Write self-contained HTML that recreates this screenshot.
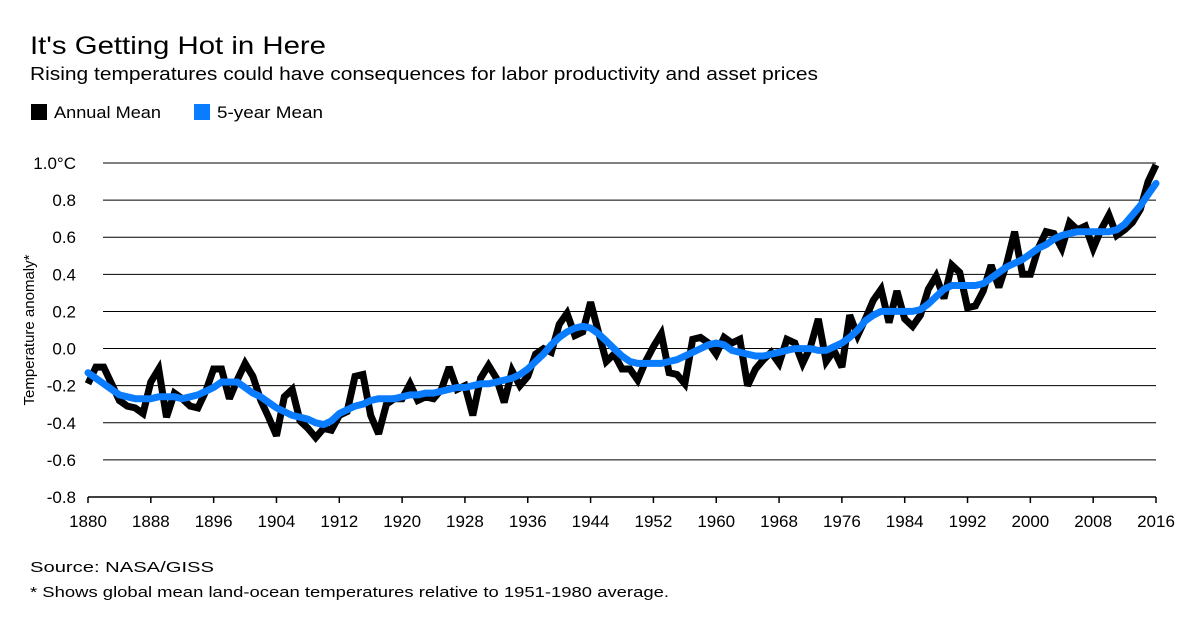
<!DOCTYPE html>
<html><head><meta charset="utf-8"><style>
body{margin:0;background:#fff;font-family:"Liberation Sans",sans-serif;}
svg text{font-family:"Liberation Sans",sans-serif;fill:#000;}
</style></head><body>
<svg width="1200" height="635" viewBox="0 0 1200 635">
<text x="30" y="54" font-size="25" textLength="296" lengthAdjust="spacingAndGlyphs">It's Getting Hot in Here</text>
<text x="30" y="80" font-size="18" textLength="788" lengthAdjust="spacingAndGlyphs">Rising temperatures could have consequences for labor productivity and asset prices</text>
<g>
<rect x="31" y="104" width="16" height="16" fill="#000"/>
<text x="54" y="118" font-size="17" textLength="107" lengthAdjust="spacingAndGlyphs">Annual Mean</text>
<rect x="194" y="104" width="16" height="16" fill="#0a7cff"/>
<text x="217" y="118" font-size="17" textLength="106" lengthAdjust="spacingAndGlyphs">5-year Mean</text>
</g>
<g id="grid"></g><g id="axes"></g><g id="series"></g>
<text transform="translate(34,330) rotate(-90)" text-anchor="middle" font-size="15">Temperature anomaly*</text>
<text x="30" y="572" font-size="15" textLength="184" lengthAdjust="spacingAndGlyphs">Source: NASA/GISS</text>
<text x="30" y="597" font-size="15" textLength="639" lengthAdjust="spacingAndGlyphs">* Shows global mean land-ocean temperatures relative to 1951-1980 average.</text>
</svg>
<script>
const startYear = 1880;
const annualMean = [-0.19,-0.10,-0.10,-0.19,-0.28,-0.31,-0.32,-0.35,-0.18,-0.11,
-0.37,-0.24,-0.27,-0.31,-0.32,-0.23,-0.11,-0.11,-0.27,-0.17,
-0.08,-0.15,-0.28,-0.37,-0.47,-0.26,-0.22,-0.39,-0.43,-0.48,
-0.43,-0.44,-0.36,-0.34,-0.15,-0.14,-0.36,-0.46,-0.30,-0.27,
-0.27,-0.19,-0.28,-0.26,-0.27,-0.22,-0.10,-0.22,-0.20,-0.36,
-0.16,-0.09,-0.16,-0.29,-0.12,-0.20,-0.15,-0.03,0.00,-0.02,
0.13,0.19,0.07,0.09,0.25,0.09,-0.07,-0.03,-0.11,-0.11,
-0.17,-0.07,0.01,0.08,-0.13,-0.14,-0.19,0.05,0.06,0.03,
-0.03,0.06,0.03,0.05,-0.20,-0.11,-0.06,-0.02,-0.08,0.05,
0.03,-0.08,0.01,0.16,-0.07,-0.01,-0.10,0.18,0.07,0.16,
0.26,0.32,0.14,0.31,0.16,0.12,0.18,0.32,0.39,0.27,
0.45,0.41,0.22,0.23,0.31,0.45,0.33,0.46,0.63,0.40,
0.40,0.54,0.63,0.62,0.54,0.68,0.64,0.66,0.54,0.64,
0.72,0.61,0.64,0.68,0.75,0.90,0.99];
const fiveYearMean = [-0.13,-0.16,-0.19,-0.22,-0.25,-0.26,-0.27,-0.27,-0.27,-0.26,
-0.26,-0.26,-0.27,-0.26,-0.25,-0.23,-0.21,-0.18,-0.18,-0.18,
-0.21,-0.24,-0.26,-0.29,-0.32,-0.34,-0.36,-0.37,-0.38,-0.40,
-0.41,-0.39,-0.35,-0.33,-0.31,-0.30,-0.28,-0.27,-0.27,-0.27,
-0.26,-0.25,-0.25,-0.24,-0.24,-0.23,-0.22,-0.21,-0.21,-0.20,
-0.19,-0.19,-0.18,-0.17,-0.16,-0.14,-0.11,-0.07,-0.03,0.02,
0.06,0.09,0.11,0.12,0.11,0.08,0.04,0.00,-0.04,-0.07,
-0.08,-0.08,-0.08,-0.08,-0.07,-0.06,-0.04,-0.02,0.00,0.02,
0.03,0.02,-0.01,-0.02,-0.03,-0.04,-0.04,-0.03,-0.02,-0.01,
0.00,0.00,0.00,-0.01,-0.01,0.01,0.03,0.06,0.10,0.15,
0.18,0.20,0.20,0.20,0.20,0.20,0.21,0.24,0.28,0.32,
0.34,0.34,0.34,0.34,0.35,0.38,0.41,0.44,0.46,0.48,
0.51,0.54,0.56,0.59,0.61,0.62,0.63,0.63,0.63,0.63,
0.63,0.64,0.67,0.72,0.77,0.83,0.89];
const yTicks = [1.0,0.8,0.6,0.4,0.2,0.0,-0.2,-0.4,-0.6,-0.8];
const yTickLabels = ["1.0°C","0.8","0.6","0.4","0.2","0.0","-0.2","-0.4","-0.6","-0.8"];
const xTicks = [1880,1888,1896,1904,1912,1920,1928,1936,1944,1952,1960,1968,1976,1984,1992,2000,2008,2016];

const NS="http://www.w3.org/2000/svg";
const X0=88,X1=1156,Y0=163,Y1=497;
const x=yr=>X0+(yr-1880)/(2016-1880)*(X1-X0);
const y=v=>Y0+(1.0-v)/1.8*(Y1-Y0);
function mk(tag,attrs,parent){const e=document.createElementNS(NS,tag);for(const k in attrs)e.setAttribute(k,attrs[k]);parent.appendChild(e);return e;}
const grid=document.getElementById('grid'),axes=document.getElementById('axes'),series=document.getElementById('series');
yTicks.forEach((v,i)=>{
  if(v>-0.8){const l=mk('line',{x1:103,x2:X1,y1:y(v),y2:y(v),stroke:'#000','stroke-width':1},grid);
  
  }
  const t=mk('text',{x:76,y:y(v)+6,'text-anchor':'end','font-size':17},axes);
  t.textContent=yTickLabels[i];
  
  
});
const base=mk('line',{x1:X0,x2:X1,y1:Y1,y2:Y1,stroke:'#000','stroke-width':1.5},axes);


xTicks.forEach(yr=>{
  const tk=mk('line',{x1:x(yr),x2:x(yr),y1:Y1,y2:Y1+6,stroke:'#000','stroke-width':1.5},axes);
  
  
  const t=mk('text',{x:x(yr),y:Y1+30,'text-anchor':'middle','font-size':17},axes);
  t.textContent=yr;
  
  
});
const pts=a=>a.map((v,i)=>x(startYear+i).toFixed(1)+','+y(v).toFixed(1)).join(' ');
const annual=mk('polyline',{points:pts(annualMean),fill:'none',stroke:'#000','stroke-width':7,'stroke-linejoin':'miter','stroke-miterlimit':3},series);


const five=mk('polyline',{points:pts(fiveYearMean),fill:'none',stroke:'#0a7cff','stroke-width':7,'stroke-linejoin':'round','stroke-linecap':'round'},series);


</script>
</body></html>
